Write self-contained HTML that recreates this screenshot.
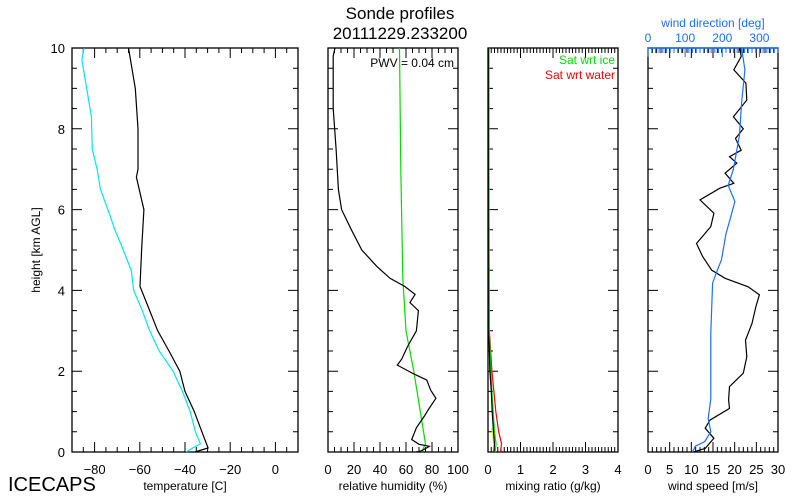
<!DOCTYPE html>
<html><head><meta charset="utf-8"><style>
body{margin:0;background:#fff;}
svg{display:block;font-family:"Liberation Sans",sans-serif;}
</style></head><body>
<svg id="c" width="800" height="500" xmlns="http://www.w3.org/2000/svg">
<text x="400" y="19" font-size="17" text-anchor="middle">Sonde profiles</text>
<text x="400" y="39" font-size="17" text-anchor="middle">20111229.233200</text>
<text x="8" y="491" font-size="20">ICECAPS</text>
<text transform="translate(40,250) rotate(-90)" font-size="12" text-anchor="middle">height [km AGL]</text>
<text x="713" y="27" font-size="12" fill="#1a6fff" text-anchor="middle">wind direction [deg]</text>
</svg>
<script>
const heights=[0,2,4,6,8,10];
// temperature
const tH=[10,9,8,7,6.8,6,5,4.1,4,3.5,3,2.5,2,1.5,1,0.5,0.1,0];
const tV=[-65,-62,-60.8,-60.8,-61.5,-58.2,-59.2,-59.9,-59.2,-55.6,-52.1,-47.1,-42.3,-40,-35.9,-32.5,-29.8,-35.6];
const tdH=[10,9.7,9,8.3,7.5,7,6.5,6,5.5,5,4.5,4,3.5,3,2.5,2,1.5,1,0.5,0.2,0.1,0];
const tdV=[-84.7,-85.6,-83.5,-81.4,-81,-78.9,-77.4,-74.1,-71,-67.3,-63.8,-62.7,-58.9,-55.6,-51.4,-45.3,-41.1,-37.7,-35.4,-33.2,-36.6,-39.5];
// relative humidity
const rhH=[10,9.8,8.5,7.5,6.5,6,5.5,5,4.6,4.3,4.1,3.9,3.7,3.5,3,2.6,2.3,2.15,1.94,1.78,1.53,1.33,1.04,0.88,0.6,0.31,0.19,0.14,0.03,0];
const rhV=[5.4,4,4,6.2,8,10.5,18,26,37.4,47.7,59,67,63,69.5,68,61,56.7,53.3,65.5,76,79,83,77,74,68,64.4,70,78,72,68];
const rhiH=[10,7,4.3,3,2,1,0.2,0];
const rhiV=[55,56,57.5,60,66,71,75,72];
// mixing ratio
const mrH=[10,3,2.8,2,1.5,1,0.5,0.2,0];
const mrV=[0.01,0.01,0.03,0.06,0.1,0.13,0.17,0.2,0.18];
const msiH=[10,6,3,2.8,2,1.5,1,0.5,0.2,0];
const msiV=[0.03,0.03,0.03,0.05,0.09,0.12,0.16,0.2,0.25,0.22];
const mswH=[10,6,3,2.8,2,1.5,1,0.5,0.2,0];
const mswV=[0.02,0.03,0.04,0.06,0.12,0.18,0.24,0.33,0.42,0.38];
const myH=[0.6,0.3,0.15,0];
const myV=[0.12,0.16,0.2,0.18];
// wind
const wsH=[10,9.79,9.46,9.13,8.71,8.3,8.0,7.76,7.47,7.31,7.15,6.9,6.65,6.53,6.24,5.91,5.58,5.16,4.84,4.5,4.3,4.09,3.89,3.6,3.18,2.77,2.36,1.95,1.62,1.29,1.08,0.79,0.59,0.34,0.09,0];
const wsV=[21.2,21.5,19.8,22.6,22.8,19.7,22,20.2,21.5,18.8,20.5,17.8,19.8,16.6,12,15.2,14.5,11.2,12.6,14.7,17.8,23.1,25.7,24.9,24,22.5,22.8,22,18.8,18.6,18.8,14.3,13.2,15.2,13.2,10.5];
const wdH=[10,9.46,8.65,7.83,7.0,6.6,6.2,5.8,5.4,4.76,4.51,4.18,2.95,1.32,0.83,0.5,0.26,0.14,0];
const wdV=[252,261,252,246,230,216,234,222,210,198,187,174,169,169,162,169,153,127,120];

const svg=document.getElementById('c');
const NS='http://www.w3.org/2000/svg';
const Y0=452,Y1=48;
function yS(h){return Y0-(h-0)/(10-0)*(Y0-Y1);}
function mk(tag,attrs,parent){const e=document.createElementNS(NS,tag);for(const k in attrs)e.setAttribute(k,attrs[k]);(parent||svg).appendChild(e);return e;}
function panel(name,x0,x1,xmin,xmax,minor,major,labels,title,showY){
  const g=mk('g',{});
  
  
  const xs=v=>x0+(v-xmin)/(xmax-xmin)*(x1-x0);
  const fr=mk('rect',{x:x0,y:Y1,width:x1-x0,height:Y0-Y1,fill:'none',stroke:'#000','stroke-width':1.3},g);
  
  
  let d='';
  const n=Math.round((xmax-xmin)/minor);
  for(let i=0;i<=n;i++){const v=xmin+i*minor;const isM=Math.abs(v/major-Math.round(v/major))<1e-6;const L=isM?10:5;const x=xs(v);
    d+=`M${x},${Y0}v${-L}M${x},${Y1}v${L}`;}
  for(let h=0;h<=10.001;h+=0.5){const isM=Math.abs(h/2-Math.round(h/2))<1e-6;const L=isM?10:5;const y=yS(h);
    d+=`M${x0},${y}h${L}M${x1},${y}h${-L}`;}
  const tk=mk('path',{d:d,stroke:'#000','stroke-width':1,fill:'none'},g);
  
  
  labels.forEach(v=>{const t=mk('text',{x:xs(v),y:Y0+22,'font-size':13,'text-anchor':'middle'},g);t.textContent=(v<0?'\u2212'+(-v):String(v));
    
    });
  const tt=mk('text',{x:(x0+x1)/2,y:Y0+38,'font-size':12,'text-anchor':'middle'},g);tt.textContent=title;
  
  
  if(showY){heights.forEach(h=>{const t=mk('text',{x:x0-7,y:yS(h)+5,'font-size':13,'text-anchor':'end'},g);t.textContent=h;
    
    });}
  return {g,xs};
}
function line(p,H,V,color,name,xs2){
  const f=xs2||p.xs;
  const pts=H.map((h,i)=>f(V[i]).toFixed(1)+','+yS(h).toFixed(1)).join(' ');
  const e=mk('polyline',{points:pts,fill:'none',stroke:color,'stroke-width':1.2},p.g);
  
  
}
const p1=panel('temperature',72,298,-90,10,5,20,[-80,-60,-40,-20,0],'temperature [C]',true);
line(p1,tdH,tdV,'#00e5ee','dewpoint-line');
line(p1,tH,tV,'#000','temperature-line');
const p2=panel('humidity',328,458,0,100,5,20,[0,20,40,60,80,100],'relative humidity (%)',false);
line(p2,rhiH,rhiV,'#00dd00','rh-ice-line');
line(p2,rhH,rhV,'#000','rh-line');
let t=mk('text',{x:454,y:67,'font-size':12,'text-anchor':'end'},p2.g);t.textContent='PWV = 0.04 cm';


const p3=panel('mixing',488,618,0,4,0.1,1,[0,1,2,3,4],'mixing ratio (g/kg)',false);
line(p3,mswH,mswV,'#ff0000','sat-water-line');
line(p3,msiH,msiV,'#00dd00','sat-ice-line');
line(p3,myH,myV,'#ffee00','yellow-line');
line(p3,mrH,mrV,'#000','mixing-ratio-line');
t=mk('text',{x:615,y:64,'font-size':12,'text-anchor':'end',fill:'#00dd00'},p3.g);t.textContent='Sat wrt ice';


t=mk('text',{x:615,y:79,'font-size':12,'text-anchor':'end',fill:'#ff0000'},p3.g);t.textContent='Sat wrt water';


const p4=panel('wind',648,778,0,30,1,5,[0,5,10,15,20,25,30],'wind speed [m/s]',false);
const xd=v=>648+v/350*130;
// top blue axis
let d='';for(let v=0;v<=350;v+=10){const L=(v%100===0)?9:5;d+=`M${xd(v)},${Y1}v${L}`;}
let e=mk('path',{d:d,stroke:'#1a6fff','stroke-width':1,fill:'none'},p4.g);


e=mk('line',{x1:648,x2:778,y1:Y1,y2:Y1,stroke:'#1a6fff','stroke-width':1.6},p4.g);


[0,100,200,300].forEach(v=>{const tx=mk('text',{x:xd(v),y:42,'font-size':12,'text-anchor':'middle',fill:'#1a6fff'},p4.g);tx.textContent=v;
  
  });
line(p4,wsH,wsV,'#000','wind-speed-line');
line(p4,wdH,wdV,'#1a6fff','wind-direction-line',xd);
</script>
</body></html>
